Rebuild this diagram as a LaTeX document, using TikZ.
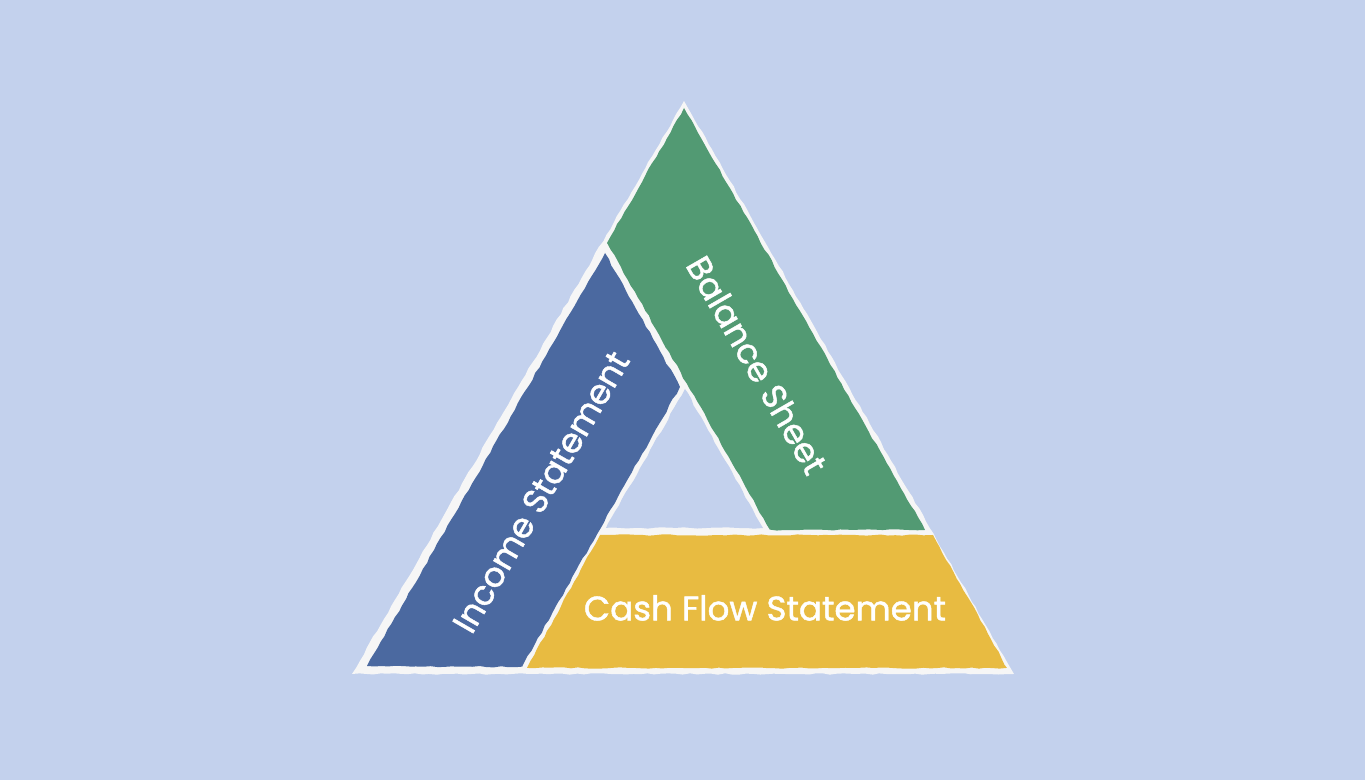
\documentclass[tikz,border=0pt]{standalone}
\usepackage{fontspec}
\setmainfont{Poppins}
\newfontfamily\lblfont{Poppins}[FakeBold=1.3]
\usetikzlibrary{decorations.pathmorphing}
\definecolor{CBg}{RGB}{195,209,237}
\definecolor{CEdge}{RGB}{246,246,246}
\definecolor{CInc}{RGB}{75,105,160}
\definecolor{CBal}{RGB}{82,154,115}
\definecolor{CCash}{RGB}{232,187,65}

\begin{document}
\begin{tikzpicture}[
  x=0.01cm, y=-0.01cm,
  rough/.style={decorate, decoration={random steps, segment length=2pt, amplitude=0.2pt}},
  piece/.style={rough, fill=#1},
  label/.style={text=white, font=\lblfont\fontsize{9.7}{11}\selectfont, inner sep=0pt}
]
\pgfmathsetseed{7}
\fill[CBg] (0,0) rectangle (1365,780);
\useasboundingbox (0,0) rectangle (1365,780);

% white frame and the hole in the middle
\fill[CEdge, rough] (684,101) -- (352,674) -- (1014,674) -- cycle;
\fill[CBg, rough] (685,389) -- (606,528) -- (763,528) -- cycle;

% the three statements
\fill[piece=CInc]  (605,253) -- (680,387) -- (522,667) -- (367,666) -- cycle;
\fill[piece=CBal]  (684,108) -- (607,243) -- (770,530) -- (925,530) -- cycle;
\fill[piece=CCash] (600,535) -- (933,535) -- (1007,668) -- (527,668) -- cycle;

\node[label, rotate=60]  (inc)  at (541,492) {Income Statement};
\node[label, rotate=-60] (bal)  at (757,365) {Balance Sheet};
\node[label]             (cash) at (765,608) {Cash Flow Statement};
\end{tikzpicture}
\end{document}
